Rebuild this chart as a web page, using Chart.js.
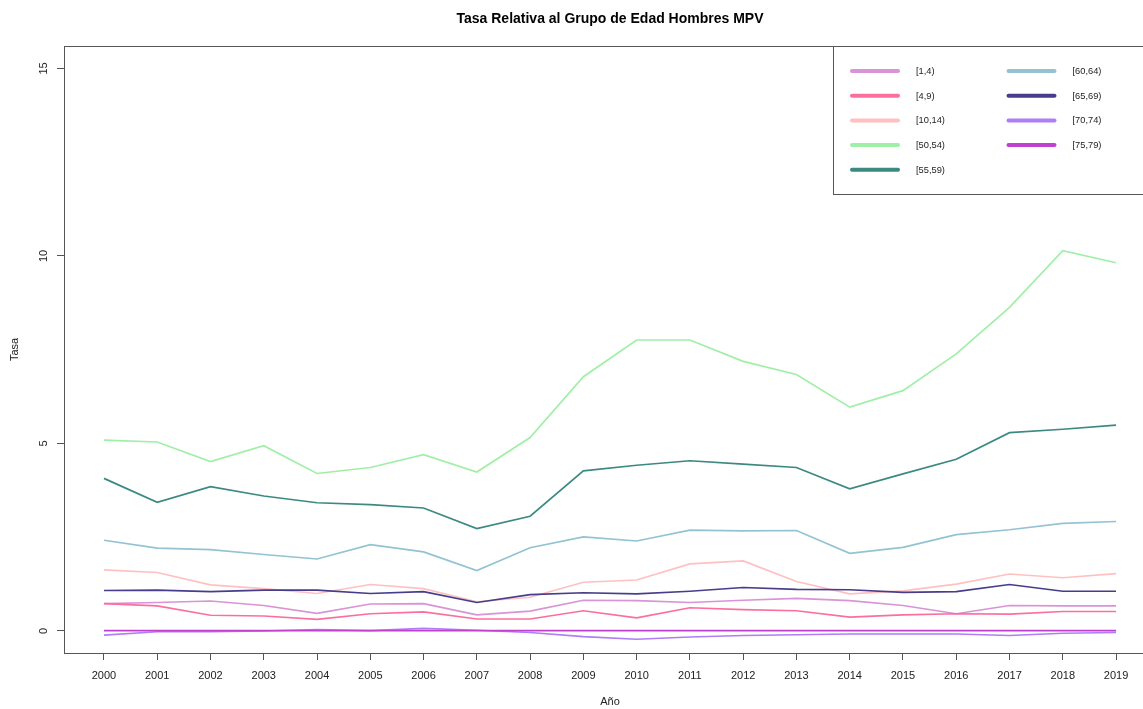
<!DOCTYPE html>
<html>
<head>
<meta charset="utf-8">
<title>Tasa Relativa al Grupo de Edad Hombres MPV</title>
<script src="https://cdn.jsdelivr.net/npm/chart.js@4/dist/chart.umd.min.js"></script>
<style>
  html, body { margin: 0; padding: 0; overflow: hidden; background: #ffffff; }
  #wrap { position: absolute; left: 0; top: 0; }
</style>
</head>
<body>
<div id="wrap"><canvas id="chart" width="1156" height="709"></canvas></div>
<script>
// Años del eje X
const years = [2000, 2001, 2002, 2003, 2004, 2005, 2006, 2007, 2008, 2009,
               2010, 2011, 2012, 2013, 2014, 2015, 2016, 2017, 2018, 2019];

// Marcas del eje Y
const yTicks = [0, 5, 10, 15];

// Grupos de edad (etiquetas de la leyenda)
const groups = ['[1,4)', '[4,9)', '[10,14)', '[50,54)', '[55,59)',
                '[60,64)', '[65,69)', '[70,74)', '[75,79)'];

// Tasa relativa por grupo de edad
const edad_1_4   = [0.73, 0.76, 0.80, 0.68, 0.47, 0.72, 0.73, 0.43, 0.53, 0.82,
                    0.81, 0.76, 0.82, 0.87, 0.81, 0.68, 0.46, 0.68, 0.67, 0.67];
const edad_4_9   = [0.73, 0.67, 0.42, 0.40, 0.31, 0.46, 0.51, 0.32, 0.32, 0.54,
                    0.35, 0.62, 0.57, 0.54, 0.37, 0.43, 0.46, 0.45, 0.52, 0.52];
const edad_10_14 = [1.63, 1.56, 1.23, 1.13, 1.00, 1.24, 1.13, 0.78, 0.90, 1.30,
                    1.36, 1.79, 1.87, 1.32, 0.99, 1.07, 1.25, 1.52, 1.42, 1.53];
const edad_50_54 = [5.09, 5.04, 4.52, 4.94, 4.20, 4.36, 4.70, 4.24, 5.16, 6.78,
                    7.76, 7.76, 7.19, 6.84, 5.97, 6.41, 7.39, 8.63, 10.14, 9.82];
const edad_55_59 = [4.07, 3.43, 3.85, 3.60, 3.42, 3.37, 3.28, 2.73, 3.06, 4.27,
                    4.42, 4.54, 4.45, 4.36, 3.79, 4.19, 4.58, 5.29, 5.38, 5.49];
const edad_60_64 = [2.42, 2.21, 2.17, 2.04, 1.92, 2.30, 2.11, 1.61, 2.22, 2.51,
                    2.40, 2.69, 2.67, 2.68, 2.07, 2.23, 2.57, 2.70, 2.87, 2.92];
const edad_65_69 = [1.08, 1.09, 1.05, 1.09, 1.09, 1.00, 1.05, 0.76, 0.97, 1.02,
                    0.99, 1.06, 1.16, 1.11, 1.10, 1.03, 1.05, 1.24, 1.06, 1.06];
const edad_70_74 = [-0.11, -0.02, -0.02, 0.00, 0.04, 0.01, 0.07, 0.02, -0.04, -0.15,
                    -0.22, -0.16, -0.12, -0.10, -0.08, -0.08, -0.08, -0.12, -0.06, -0.04];
const edad_75_79 = [0.01, 0.01, 0.01, 0.01, 0.01, 0.01, 0.01, 0.01, 0.01, 0.01,
                    0.01, 0.01, 0.01, 0.01, 0.01, 0.01, 0.01, 0.01, 0.01, 0.01];

const seriesValues = [edad_1_4, edad_4_9, edad_10_14, edad_50_54, edad_55_59,
                      edad_60_64, edad_65_69, edad_70_74, edad_75_79];

const seriesColors = ['#d993d6', '#fb6f9f', '#ffc0c2', '#a0efa7', '#3c8982',
                      '#93c3d3', '#473d8b', '#af7ef6', '#c041d0'];

const datasets = groups.map((g, i) => ({
  label: g,
  data: years.map((yr, j) => ({ x: yr, y: seriesValues[i][j] })),
  borderColor: seriesColors[i],
  backgroundColor: seriesColors[i],
  borderWidth: 1.7,
  pointRadius: 0,
  tension: 0,
  fill: false,
  order: groups.length - i
}));

const FONT = "'Liberation Sans', Arial, Helvetica, sans-serif";

// Marco del gráfico y leyenda interior (estilo R base)
const frameAndLegend = {
  id: 'frameAndLegend',
  afterDraw(chart) {
    const { ctx, chartArea } = chart;
    ctx.save();
    ctx.strokeStyle = '#555555';
    ctx.lineWidth = 1;
    ctx.strokeRect(chartArea.left + 0.5, chartArea.top + 0.5,
                   chartArea.right - chartArea.left - 1, chartArea.bottom - chartArea.top);

    // Leyenda
    const boxX = 833.5, boxY = chartArea.top + 0.5, boxH = 148;
    ctx.fillStyle = '#ffffff';
    ctx.fillRect(boxX, boxY, chartArea.right - boxX, boxH);
    ctx.strokeRect(boxX, boxY, chartArea.right - boxX + 5, boxH);

    const rowsPerCol = 5;
    const colX = [852, 1008.5];
    const rowY0 = 71, rowStep = 24.7;
    ctx.font = '9.3px ' + FONT;
    ctx.textBaseline = 'middle';
    ctx.textAlign = 'left';
    ctx.lineCap = 'round';
    chart.data.datasets.forEach((ds, i) => {
      const c = Math.floor(i / rowsPerCol);
      const r = i % rowsPerCol;
      const x = colX[c];
      const y = rowY0 + r * rowStep;
      ctx.strokeStyle = ds.borderColor;
      ctx.lineWidth = 4;
      ctx.beginPath();
      ctx.moveTo(x, y);
      ctx.lineTo(x + 46, y);
      ctx.stroke();
      ctx.fillStyle = '#222222';
      ctx.fillText(ds.label, x + 64, y + 0.5);
    });
    ctx.restore();
  }
};

new Chart(document.getElementById('chart'), {
  type: 'line',
  data: { datasets },
  plugins: [frameAndLegend],
  options: {
    responsive: false,
    animation: false,
    devicePixelRatio: 1,
    layout: { padding: 0 },
    plugins: {
      legend: { display: false },
      tooltip: { enabled: false },
      title: {
        display: true,
        fullSize: false,
        text: 'Tasa Relativa al Grupo de Edad Hombres MPV',
        color: '#000000',
        font: { family: FONT, size: 14, weight: 'bold' },
        padding: { top: 11, bottom: 18.2 }
      }
    },
    scales: {
      x: {
        type: 'linear',
        min: 1999.25,
        max: 2019.75,
        afterBuildTicks: (scale) => { scale.ticks = years.map(v => ({ value: v })); },
        afterFit: (scale) => { scale.height = 56; },
        border: { display: false },
        grid: { drawOnChartArea: false, drawTicks: true, tickLength: 7, tickColor: '#555555' },
        ticks: {
          color: '#222222',
          font: { family: FONT, size: 11 },
          padding: 9,
          maxRotation: 0,
          minRotation: 0,
          callback: (v) => String(v)
        },
        title: {
          display: true,
          text: 'Año',
          color: '#222222',
          font: { family: FONT, size: 11 },
          padding: { top: 0, bottom: 0 }
        }
      },
      y: {
        type: 'linear',
        min: -0.587,
        max: 15.6,
        afterBuildTicks: (scale) => { scale.ticks = yTicks.map(v => ({ value: v })); },
        afterFit: (scale) => { scale.width = 64; },
        border: { display: false },
        grid: { drawOnChartArea: false, drawTicks: true, tickLength: 7, tickColor: '#555555' },
        ticks: {
          color: '#222222',
          font: { family: FONT, size: 11 },
          padding: 7,
          minRotation: 90,
          maxRotation: 90,
          crossAlign: 'center',
          callback: (v) => String(v)
        },
        title: {
          display: true,
          text: 'Tasa',
          color: '#222222',
          font: { family: FONT, size: 11 },
          padding: { top: 8.4, bottom: 0 }
        }
      }
    }
  }
});
</script>
</body>
</html>
